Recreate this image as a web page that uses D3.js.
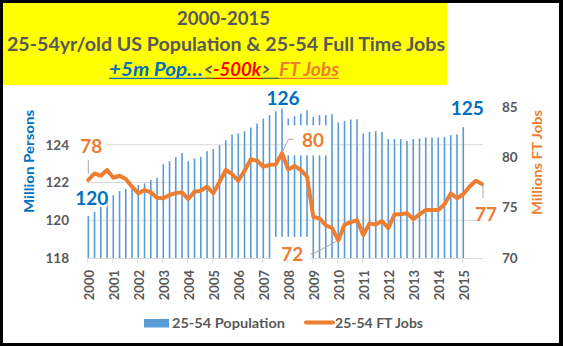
<!DOCTYPE html>
<html><head><meta charset="utf-8">
<script src="https://cdn.jsdelivr.net/npm/d3@7"></script>
<style>body{margin:0;background:#000}svg{display:block}text{font-family:Lato,"Open Sans",sans-serif;font-weight:bold}</style>
</head><body><svg id="c" width="563" height="346"></svg>
<script>
// ---- data ----
const years = ["2000","2001","2002","2003","2004","2005","2006","2007","2008","2009","2010","2011","2012","2013","2014","2015"];
// 25-54 population, quarterly from 2000Q1 to 2015Q1 (millions)
const population = [
 120.22,120.45,120.77,121.0, 121.33,121.54,121.65,121.76, 121.86,121.95,122.13,122.25, 122.97,123.13,123.34,123.56,
 123.13,123.27,123.36,123.66, 123.77,123.98,124.24,124.54, 124.6,124.72,124.91,125.12, 125.39,125.57,125.78,125.92,
 125.39,125.51,125.66,125.83, 125.48,125.57,125.57,125.62, 125.18,125.26,125.34,125.35, 124.6,124.68,124.72,124.68,
 124.3,124.3,124.3,124.2, 124.3,124.33,124.39,124.39, 124.39,124.42,124.51,124.55, 124.93];
// 25-54 full time jobs, quarterly from 2000Q1 to 2015Q4 (millions)
const ftJobs = [
 77.75,78.4,78.17,78.74, 77.97,78.17,77.84,77.08, 76.42,76.75,76.52,75.99, 75.93,76.26,76.45,76.52,
 75.86,76.59,76.69,77.08, 76.42,77.58,78.74,78.34, 77.68,78.67,79.8,79.66, 79.07,79.24,79.3,80.4,
 78.8,79.15,78.74,78.1, 74.1,73.94,73.25,72.98, 71.75,73.3,73.57,73.77, 72.28,73.44,73.33,73.67,
 72.95,74.34,74.34,74.44, 73.87,74.34,74.77,74.77, 74.77,75.33,76.42,75.93, 76.33,77.08,77.68,77.35];
const leftTicks = [118,120,122,124];
const rightTicks = [70,75,80,85];
const titleLines = ["2000-2015","25-54yr/old US Population  & 25-54 Full Time Jobs"];
const subtitleParts = [
  {t:"+5m Pop\u2026", c:"#0070C0", x0:109, x1:203},
  {t:"<", c:"#595959", x0:204, x1:213},
  {t:"-500k", c:"#FF0000", x0:213, x1:261},
  {t:">", c:"#595959", x0:262, x1:270},
  {t:"FT Jobs", c:"#ED7D31", x0:279, x1:339}
];
const legendLabels = ["25-54 Population","25-54 FT Jobs"];
const axisTitles = ["Million Persons","Millions FT Jobs"];

const BLUE="#5B9BD5", ORANGE="#ED7D31", GRAY="#595959", GRID="#D9D9D9", LBLUE="#0070C0";
const qDate = i => 2000 + i/4 + 0.04;

const svg = d3.select("#c");
svg.append("rect").attr("width",563).attr("height",346).attr("fill","#000");
svg.append("rect").attr("x",3).attr("y",3).attr("width",556).attr("height",340).attr("fill","#fff");
svg.append("rect").attr("x",3).attr("y",3).attr("width",444).attr("height",82).attr("fill","#FFFF00");

// titles
svg.append("text").attr("x",223.5).attr("y",25).attr("text-anchor","middle").attr("fill",GRAY)
  .style("font-size","18px").attr("textLength",93).attr("lengthAdjust","spacingAndGlyphs").text(titleLines[0]);
svg.append("text").attr("x",7).attr("y",51).attr("fill",GRAY)
  .style("font-size","18.5px").attr("textLength",438).attr("lengthAdjust","spacingAndGlyphs").text(titleLines[1]);
subtitleParts.forEach((p,k)=>{
  svg.append("text").attr("x",p.x0).attr("y",75.5).attr("fill",p.c).style("font-style","italic")
    .style("font-size","18px").attr("textLength",p.x1-p.x0).attr("lengthAdjust","spacingAndGlyphs").text(p.t);
  const ux1 = k<subtitleParts.length-1 ? subtitleParts[k+1].x0 : p.x1;
  svg.append("line").attr("x1",p.x0).attr("x2",ux1).attr("y1",78.3).attr("y2",78.3)
    .attr("stroke",p.c).attr("stroke-width",1.3);
});

// scales
const x = d3.scaleLinear().domain([2000, 2015.83]).range([87.3, 483]);
const yL = d3.scaleLinear().domain([118,126]).range([258,107]);
const yR = d3.scaleLinear().domain([70,85]).range([258,107]);

// gridlines
svg.append("g").selectAll("line").data(leftTicks.slice(1)).join("line")
  .attr("x1",x.range()[0]).attr("x2",x.range()[1]).attr("y1",d=>yL(d)).attr("y2",d=>yL(d))
  .attr("stroke",GRID).attr("stroke-width",1);

// bars
svg.append("g").selectAll("rect").data(population).join("rect")
  .attr("x",(d,i)=>x(qDate(i))-0.8).attr("width",1.6)
  .attr("y",d=>yL(d)).attr("height",d=>yL(118)-yL(d)).attr("fill",BLUE);

// x axis
const xAxis = d3.axisBottom(x).tickValues(years.map(Number)).tickSize(5).tickFormat(d=>String(d));
const gx = svg.append("g").attr("transform","translate(0,258)").call(xAxis);
gx.select(".domain").attr("stroke",GRID).attr("d",`M${x.range()[0]},0.5H${x.range()[1]}`);
gx.selectAll(".tick line").attr("stroke",GRID);
gx.selectAll(".tick text").attr("fill",GRAY).style("font-size","13px").attr("text-anchor","end")
  .attr("y",0).attr("dy",0).attr("transform","translate(6.4,12) rotate(-90)");

// left axis
const gl = svg.append("g").attr("transform","translate(69,0)")
  .call(d3.axisLeft(yL).tickValues(leftTicks).tickSize(0).tickPadding(0));
gl.select(".domain").remove();
gl.selectAll("text").attr("fill",GRAY).style("font-size","13.5px");
// right axis
const gr = svg.append("g").attr("transform","translate(502,0)")
  .call(d3.axisRight(yR).tickValues(rightTicks).tickSize(0).tickPadding(0));
gr.select(".domain").remove();
gr.selectAll("text").attr("fill",GRAY).style("font-size","13.5px");

// axis titles
svg.append("text").attr("transform","translate(33.5,161.5) rotate(-90)").attr("text-anchor","middle")
  .attr("fill",LBLUE).style("font-size","13.5px").attr("textLength",103).attr("lengthAdjust","spacingAndGlyphs").text(axisTitles[0]);
svg.append("text").attr("transform","translate(542,162.5) rotate(-90)").attr("text-anchor","middle")
  .attr("fill",ORANGE).style("font-size","13.5px").attr("textLength",105).attr("lengthAdjust","spacingAndGlyphs").text(axisTitles[1]);

// line
const line = d3.line().x((d,i)=>x(qDate(i))).y(d=>yR(d));
svg.append("path").datum(ftJobs).attr("d",line).attr("fill","none").attr("stroke",ORANGE)
  .attr("stroke-width",4).attr("stroke-linejoin","round").attr("stroke-linecap","round");

// data labels
function px(i){return x(qDate(i));}
const iMaxP = d3.maxIndex(population), iLastP = population.length-1;
const iMaxJ = d3.maxIndex(ftJobs), iMinJ = d3.minIndex(ftJobs), iLastJ = ftJobs.length-1;
const lab = svg.append("g").style("font-size","19px").attr("text-anchor","middle");
function label(txt, cx, by, color, box){
  if(box) lab.append("rect").attr("x",box[0]).attr("y",box[1]).attr("width",box[2]).attr("height",box[3]).attr("fill","#fff");
  lab.append("text").attr("x",cx).attr("y",by).attr("fill",color).text(txt);
}
function leader(pts){
  svg.append("path").attr("d",d3.line()(pts)).attr("fill","none").attr("stroke","#A6A6A6").attr("stroke-width",1);
}
// population labels
{ const p0x=px(0), p0y=yL(population[0]);
  label(Math.round(population[0]), p0x+3.5, p0y-11, LBLUE, [p0x-12, p0y-28, 31, 19]); }
{ const mx=px(iMaxP), my=yL(population[iMaxP]);
  label(Math.round(population[iMaxP]), mx+1, my-4, LBLUE); }
{ const lx=px(iLastP), ly=yL(population[iLastP]);
  label(Math.round(population[iLastP]), lx+4, ly-12, LBLUE); }
// jobs labels
{ const sx=px(0), sy=yR(ftJobs[0]);
  label(Math.round(ftJobs[0]), sx+3, sy-27, ORANGE, [sx-11, sy-44, 29, 22]);
  leader([[sx, sy-20],[sx, sy-6]]); }
{ const mx=px(iMaxJ), my=yR(ftJobs[iMaxJ]);
  label(Math.round(ftJobs[iMaxJ]), mx+31, my-6, ORANGE, [mx+4, my-28, 44, 30]);
  leader([[mx+11.5, my-14],[mx+6.5, my-14],[mx+0.5, my-2]]); }
{ const nx=px(iMinJ), ny=yR(ftJobs[iMinJ]);
  label(Math.round(ftJobs[iMinJ]), nx-46, ny+21, ORANGE, [nx-67, ny-3.5, 39, 24]);
  leader([[nx-28, ny+13.5],[nx-25, ny+13.5],[nx-2, ny+1]]); }
{ const lx=px(iLastJ), ly=yR(ftJobs[iLastJ]);
  label(Math.round(ftJobs[iLastJ]), lx+4, ly+37, ORANGE);
  leader([[lx+1, ly+1],[lx+1, ly+14]]); }

// legend
svg.append("rect").attr("x",144).attr("y",319).attr("width",25).attr("height",8.5).attr("fill",BLUE);
svg.append("text").attr("x",172).attr("y",327.5).attr("fill",GRAY).style("font-size","14px")
  .attr("textLength",113).attr("lengthAdjust","spacingAndGlyphs").text(legendLabels[0]);
svg.append("line").attr("x1",306).attr("x2",333).attr("y1",322.5).attr("y2",322.5).attr("stroke",ORANGE)
  .attr("stroke-width",4).attr("stroke-linecap","round");
svg.append("text").attr("x",335).attr("y",327.5).attr("fill",GRAY).style("font-size","14px")
  .attr("textLength",88).attr("lengthAdjust","spacingAndGlyphs").text(legendLabels[1]);
</script></body></html>
